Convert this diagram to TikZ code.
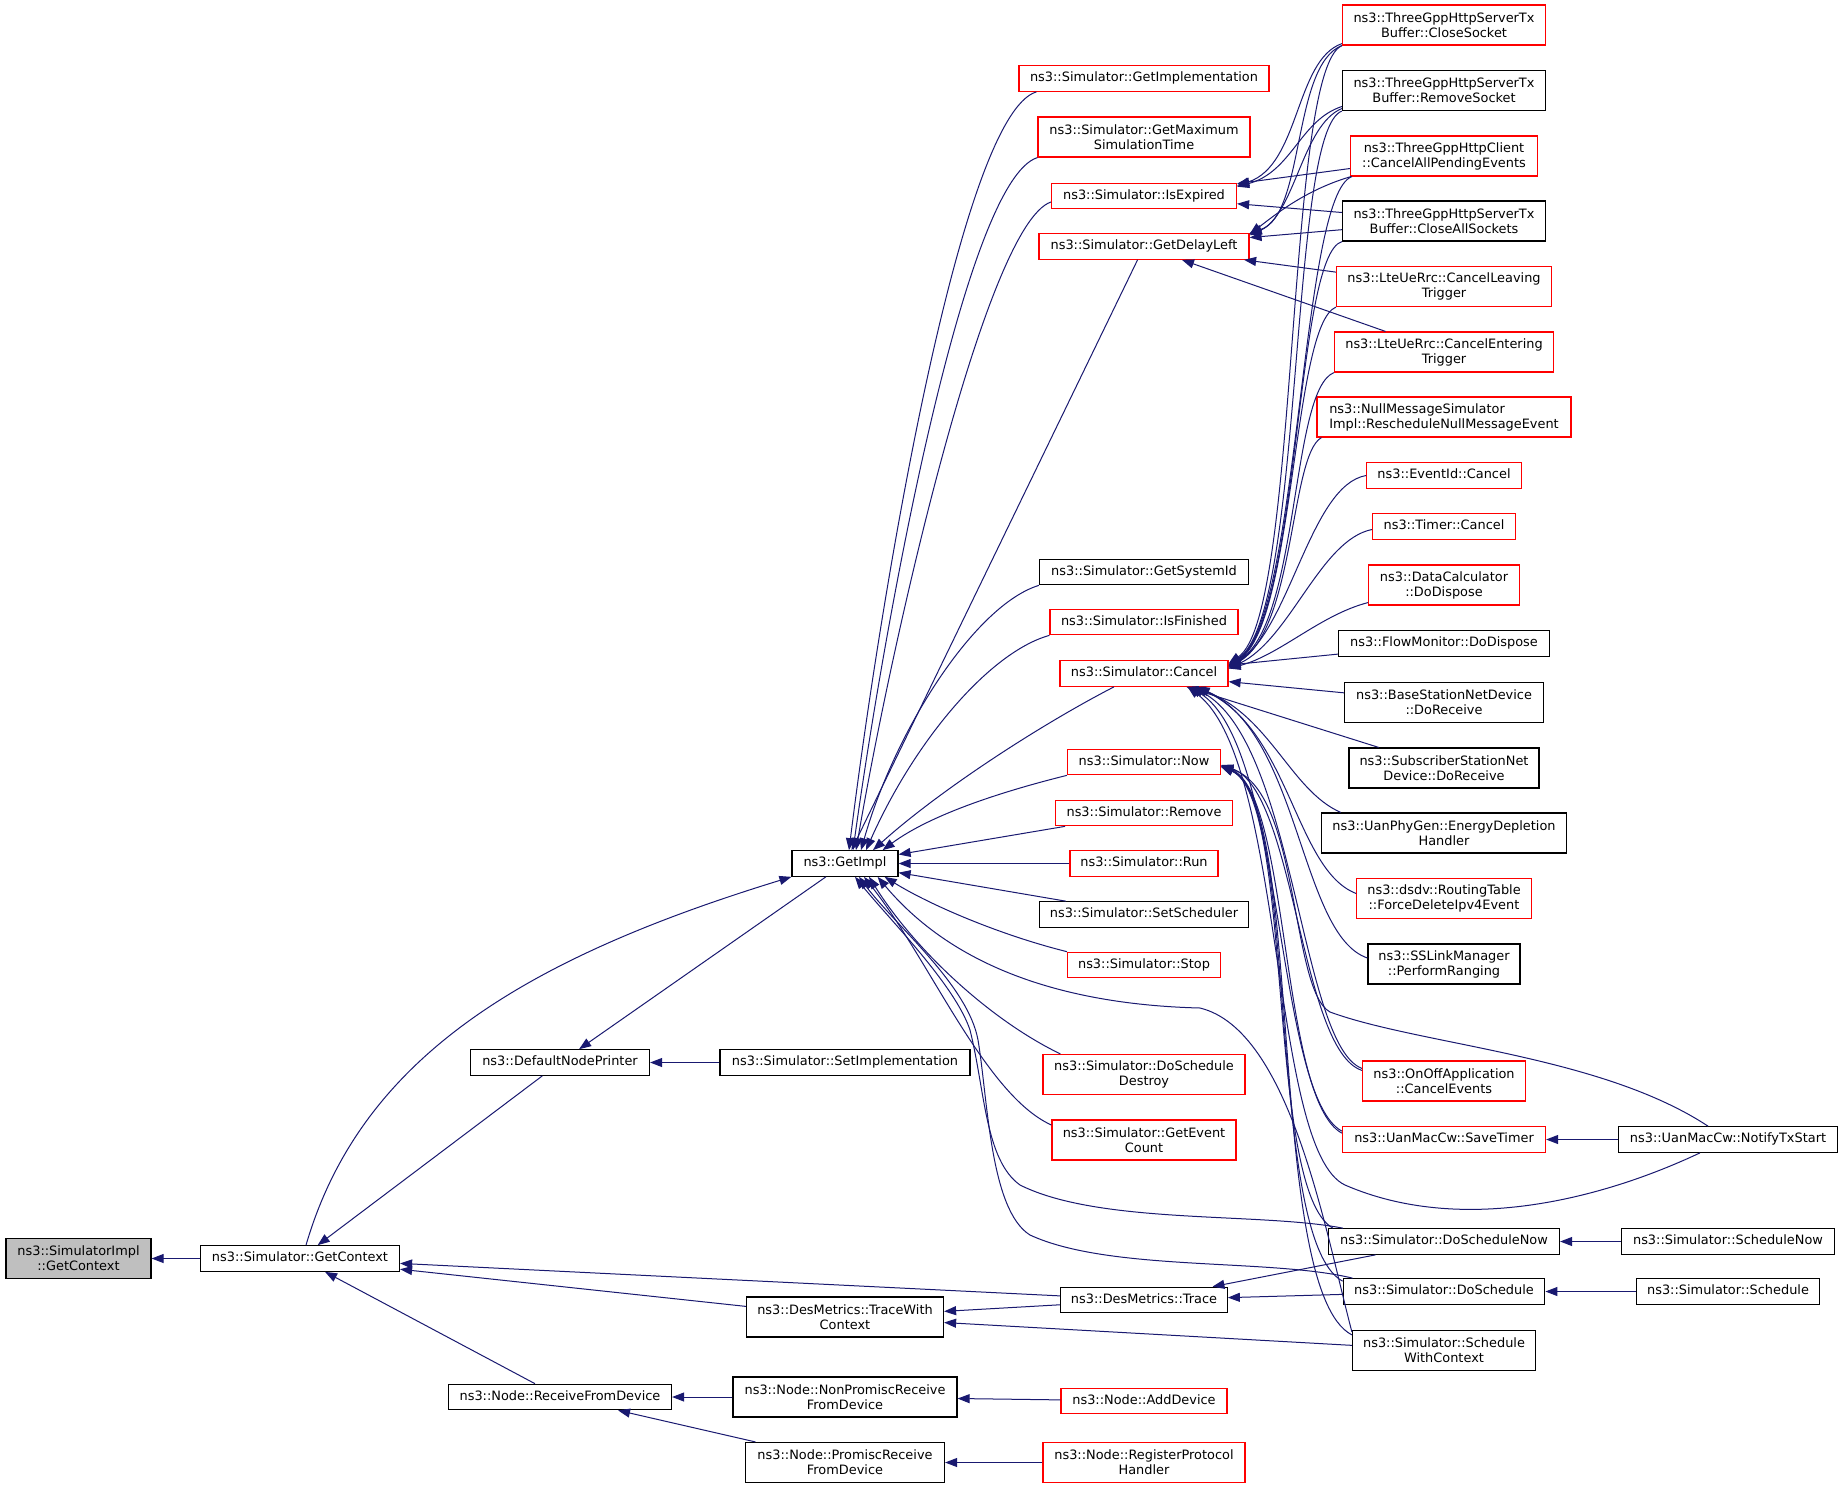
\documentclass[tikz,border=0pt]{standalone}
\usepackage{fontspec}
\setmainfont{DejaVu Sans}
\usetikzlibrary{arrows.meta,calc}
\definecolor{edgecol}{RGB}{25,25,112}
\definecolor{nodered}{RGB}{255,0,0}
\definecolor{nodegray}{RGB}{191,191,191}
\begin{document}
\begin{tikzpicture}[x=1pt,y=-1pt,
  bx/.style={rectangle, draw=black, line width=1.2pt, fill=white, inner xsep=3pt, inner ysep=2pt, font=\fontsize{12.9}{15}\selectfont, text height=9.6pt, text depth=3pt, minimum height=25.5pt},
  bxx/.style={rectangle, draw=black, line width=1.2pt, fill=white, inner xsep=3pt, inner ysep=2pt, font=\fontsize{12.9}{15}\selectfont, align=center, minimum height=40pt},
  rb/.style={draw=nodered},
  gb/.style={fill=nodegray},
  cx/.style={draw=edgecol, line width=1pt, -{Triangle[length=12pt,width=9pt]}},
]
\fill[white] (0,0) rectangle (1843,1488);
\useasboundingbox (0,0) rectangle (1843,1488);

% ---------- nodes ----------
\node[bxx,gb,minimum width=145pt] (sgc0) at (78.5,1258.5) {ns3::SimulatorImpl\\::GetContext};
\node[bx,minimum width=199pt] (sgc) at (300,1258.5) {ns3::Simulator::GetContext};
\node[bx,minimum width=179pt] (dnp) at (560,1062.5) {ns3::DefaultNodePrinter};
\node[bx,minimum width=223pt] (rfd) at (560,1397) {ns3::Node::ReceiveFromDevice};
\node[bx,minimum width=106pt] (gimpl) at (845,863.5) {ns3::GetImpl};
\node[bx,minimum width=250pt] (simpl) at (845,1062.5) {ns3::Simulator::SetImplementation};
\node[bxx,minimum width=197pt] (twc) at (845,1317) {ns3::DesMetrics::TraceWith\\Context};
\node[bxx,minimum width=224pt] (npr) at (845,1397) {ns3::Node::NonPromiscReceive\\FromDevice};
\node[bxx,minimum width=199pt] (pr) at (845,1462.5) {ns3::Node::PromiscReceive\\FromDevice};

\node[bx,rb,minimum width=250pt] (gimpln) at (1144,78.5) {ns3::Simulator::GetImplementation};
\node[bxx,rb,minimum width=212pt] (gmax) at (1144,137) {ns3::Simulator::GetMaximum\\SimulationTime};
\node[bx,rb,minimum width=185pt] (ie) at (1144,196) {ns3::Simulator::IsExpired};
\node[bx,rb,minimum width=210pt] (gdl) at (1144,246.5) {ns3::Simulator::GetDelayLeft};
\node[bx,minimum width=209pt] (gsid) at (1144,572) {ns3::Simulator::GetSystemId};
\node[bx,rb,minimum width=188pt] (isf) at (1144,622) {ns3::Simulator::IsFinished};
\node[bx,rb,minimum width=168pt] (cn) at (1144,673.5) {ns3::Simulator::Cancel};
\node[bx,rb,minimum width=153pt] (nw) at (1144,762) {ns3::Simulator::Now};
\node[bx,rb,minimum width=177pt] (rm) at (1144,813) {ns3::Simulator::Remove};
\node[bx,rb,minimum width=148pt] (run) at (1144,863.5) {ns3::Simulator::Run};
\node[bx,minimum width=209pt] (ssch) at (1144,914.5) {ns3::Simulator::SetScheduler};
\node[bx,rb,minimum width=153pt] (stp) at (1144,965) {ns3::Simulator::Stop};
\node[bxx,rb,minimum width=202pt] (dsd) at (1144,1074.5) {ns3::Simulator::DoSchedule\\Destroy};
\node[bxx,rb,minimum width=184pt] (gec) at (1144,1140) {ns3::Simulator::GetEvent\\Count};
\node[bx,minimum width=166.5pt] (trc) at (1144,1300) {ns3::DesMetrics::Trace};
\node[bx,rb,minimum width=166pt] (adev) at (1144,1401) {ns3::Node::AddDevice};
\node[bxx,rb,minimum width=202pt] (rph) at (1144,1462.5) {ns3::Node::RegisterProtocol\\Handler};

\node[bxx,rb,minimum width=203pt] (cs) at (1444,25) {ns3::ThreeGppHttpServerTx\\Buffer::CloseSocket};
\node[bxx,minimum width=203pt] (rs) at (1444,90.5) {ns3::ThreeGppHttpServerTx\\Buffer::RemoveSocket};
\node[bxx,rb,minimum width=187pt] (cap) at (1444,156) {ns3::ThreeGppHttpClient\\::CancelAllPendingEvents};
\node[bxx,minimum width=203pt] (cas) at (1444,221) {ns3::ThreeGppHttpServerTx\\Buffer::CloseAllSockets};
\node[bxx,rb,minimum width=215pt] (clt) at (1444,286.5) {ns3::LteUeRrc::CancelLeaving\\Trigger};
\node[bxx,rb,minimum width=219pt] (cet) at (1444,352) {ns3::LteUeRrc::CancelEntering\\Trigger};
\node[bxx,rb,align=left,minimum width=254pt] (nms) at (1444,417) {ns3::NullMessageSimulator\\Impl::RescheduleNullMessageEvent};
\node[bx,rb,minimum width=154.5pt] (eid) at (1444,475.5) {ns3::EventId::Cancel};
\node[bx,rb,minimum width=143pt] (tmr) at (1444,526.5) {ns3::Timer::Cancel};
\node[bxx,rb,minimum width=151pt] (dc) at (1444,585) {ns3::DataCalculator\\::DoDispose};
\node[bx,minimum width=211pt] (fm) at (1444,643.5) {ns3::FlowMonitor::DoDispose};
\node[bxx,minimum width=199pt] (bs) at (1444,702.5) {ns3::BaseStationNetDevice\\::DoReceive};
\node[bxx,minimum width=190pt] (ss) at (1444,768) {ns3::SubscriberStationNet\\Device::DoReceive};
\node[bxx,minimum width=245.5pt] (upg) at (1444,833) {ns3::UanPhyGen::EnergyDepletion\\Handler};
\node[bxx,rb,minimum width=174.5pt] (dsdv) at (1444,898.5) {ns3::dsdv::RoutingTable\\::ForceDeleteIpv4Event};
\node[bxx,minimum width=152pt] (ssl) at (1444,964) {ns3::SSLinkManager\\::PerformRanging};
\node[bxx,rb,minimum width=163pt] (oo) at (1444,1081) {ns3::OnOffApplication\\::CancelEvents};
\node[bx,rb,minimum width=203pt] (st) at (1444,1139.5) {ns3::UanMacCw::SaveTimer};
\node[bx,minimum width=231pt] (dsn) at (1444,1241.5) {ns3::Simulator::DoScheduleNow};
\node[bx,minimum width=201.6pt] (dsc) at (1444,1291.5) {ns3::Simulator::DoSchedule};
\node[bxx,minimum width=183pt] (swc) at (1444,1350.5) {ns3::Simulator::Schedule\\WithContext};

\node[bx,minimum width=219pt] (ntx) at (1728,1139.5) {ns3::UanMacCw::NotifyTxStart};
\node[bx,minimum width=213pt] (sn) at (1728,1241.5) {ns3::Simulator::ScheduleNow};
\node[bx,minimum width=182.5pt] (sch) at (1728,1291.5) {ns3::Simulator::Schedule};

% ---------- straight connectors ----------
\draw[cx] (sgc) -- (sgc0);
\draw[cx] (dnp) -- (sgc);
\draw[cx] (gimpl) -- (dnp);
\draw[cx] (simpl) -- (dnp);
\draw[cx] (twc) -- (sgc);
\draw[cx] (trc) -- (sgc);
\draw[cx] (rfd) -- (sgc);
\draw[cx] (npr) -- (rfd);
\draw[cx] (pr) -- (rfd);
\draw[cx] (adev) -- (npr);
\draw[cx] (rph) -- (pr);
\draw[cx] (trc) -- (twc);
\draw[cx] (swc) -- (twc);
\draw[cx] (dsn) -- (trc);
\draw[cx] (dsc) -- (trc);
\draw[cx] (sn) -- (dsn);
\draw[cx] (sch) -- (dsc);
\draw[cx] (ntx) -- (st);
\draw[cx] (gdl) -- (gimpl);
\draw[cx] (rm) -- (gimpl);
\draw[cx] (run) -- (gimpl);
\draw[cx] (ssch) -- (gimpl);
\draw[cx] (cap) -- (ie);
\draw[cx] (cas) -- (ie);
\draw[cx] (cas) -- (gdl);
\draw[cx] (clt) -- (gdl);
\draw[cx] (cet) -- (gdl);
\draw[cx] (fm) -- (cn);
\draw[cx] (bs) -- (cn);
\draw[cx] (ss) -- (cn);

% ---------- curved connectors into GetImpl ----------
\draw[cx] ($(sgc.north)+(6,0)$) .. controls (360,1060) and (520,960) .. (gimpl.south west);
\draw[cx] ($(gimpln.south west)+(18,0)$) .. controls (960,115) and (880,600) .. ($(gimpl.north)+(4,0)$);
\draw[cx] (gmax.south west) .. controls (965,180) and (885,620) .. ($(gimpl.north)+(8,0)$);
\draw[cx] ($(ie.west)+(0,6)$) .. controls (985,225) and (890,650) .. ($(gimpl.north)+(11,0)$);
\draw[cx] (gsid.south west) .. controls (975,605) and (895,730) .. ($(gimpl.north)+(16,0)$);
\draw[cx] (isf.south west) .. controls (990,652) and (915,740) .. ($(gimpl.north)+(21,0)$);
\draw[cx] ($(cn.south)+(-30,0)$) .. controls (1040,725) and (940,790) .. ($(gimpl.north)+(28,0)$);
\draw[cx] (nw.south west) .. controls (1000,792) and (930,815) .. ($(gimpl.north east)+(-16,0)$);
\draw[cx] (stp.north west) .. controls (1000,935) and (930,905) .. ($(gimpl.south east)+(-14,0)$);
\draw[cx] ($(dsd.north west)+(18,0)$) .. controls (990,1020) and (915,950) .. ($(gimpl.south)+(24,0)$);
\draw[cx] ($(gec.west)+(0,-15)$) .. controls (985,1095) and (930,960) .. ($(gimpl.south)+(19,0)$);
\draw[cx] ($(dsn.north west)+(15,0)$) .. controls (1260,1212) and (1100,1225) .. (1020,1185) .. controls (985,1160) and (985,1090) .. (970,1030) .. controls (955,985) and (890,920) .. ($(gimpl.south)+(10,0)$);
\draw[cx] ($(dsc.north west)+(10,0)$) .. controls (1270,1258) and (1110,1272) .. (1030,1235) .. controls (990,1210) and (988,1100) .. (978,1040) .. controls (968,985) and (895,925) .. ($(gimpl.south)+(14,0)$);
\draw[cx] ($(swc.north west)+(0,2)$) .. controls (1325,1230) and (1290,1030) .. (1200,1008) .. controls (1080,1005) and (960,975) .. ($(gimpl.south east)+(-21,0)$);

% ---------- IsExpired / GetDelayLeft ----------
\draw[cx] ($(cs.south west)+(0,-2)$) .. controls (1295,60) and (1300,165) .. ($(ie.north east)+(0,3)$);
\draw[cx] ($(rs.west)+(0,16)$) .. controls (1300,120) and (1292,172) .. ($(ie.north east)+(0,4)$);
\draw[cx] (cs.south west) .. controls (1292,65) and (1305,215) .. (gdl.north east);
\draw[cx] ($(rs.west)+(0,18)$) .. controls (1302,125) and (1295,215) .. ($(gdl.north east)+(0,2)$);
\draw[cx] ($(cap.south west)+(1,0)$) .. controls (1305,190) and (1275,215) .. ($(gdl.north east)+(0,1)$);

% ---------- into Cancel ----------
\draw[cx] (cs.south west) .. controls (1285,70) and (1300,615) .. ($(cn.east)+(0,-10)$);
\draw[cx] (rs.south west) .. controls (1288,130) and (1305,615) .. ($(cn.east)+(0,-9)$);
\draw[cx] ($(cap.south west)+(2,0)$) .. controls (1300,195) and (1300,620) .. ($(cn.east)+(0,-8)$);
\draw[cx] (cas.south west) .. controls (1295,255) and (1300,620) .. ($(cn.east)+(0,-8)$);
\draw[cx] (clt.south west) .. controls (1292,325) and (1295,625) .. ($(cn.east)+(0,-7)$);
\draw[cx] (cet.south west) .. controls (1290,390) and (1300,625) .. ($(cn.east)+(0,-7)$);
\draw[cx] ($(nms.south west)+(5,0)$) .. controls (1290,455) and (1295,630) .. ($(cn.east)+(0,-6)$);
\draw[cx] (eid.west) .. controls (1310,485) and (1290,630) .. ($(cn.east)+(0,-6)$);
\draw[cx] ($(tmr.west)+(0,3)$) .. controls (1320,540) and (1290,640) .. ($(cn.east)+(0,-5)$);
\draw[cx] ($(dc.south west)+(0,-3)$) .. controls (1320,615) and (1280,655) .. ($(cn.east)+(0,-5)$);
\draw[cx] ($(upg.north west)+(20,0)$) .. controls (1290,790) and (1270,715) .. ($(cn.south east)+(-35,0)$);
\draw[cx] ($(dsdv.west)+(0,-5)$) .. controls (1295,870) and (1290,730) .. ($(cn.south east)+(-33,0)$);
\draw[cx] ($(ssl.west)+(0,-6)$) .. controls (1300,935) and (1300,735) .. ($(cn.south east)+(-31,0)$);
\draw[cx] ($(oo.north west)+(0,8)$) .. controls (1300,1045) and (1295,740) .. ($(cn.south east)+(-37,0)$);
\draw[cx] ($(st.north west)+(0,5)$) .. controls (1275,1095) and (1285,745) .. ($(cn.south east)+(-39,0)$);
\draw[cx] ($(ntx.south)+(-28,0)$) .. controls (1600,1200) and (1460,1235) .. (1345,1185) .. controls (1270,1150) and (1285,760) .. ($(cn.south east)+(-41,0)$);

% ---------- into Now ----------
\draw[cx] ($(ntx.north)+(-20,0)$) .. controls (1600,1055) and (1420,1045) .. (1330,1012) .. controls (1290,990) and (1300,790) .. ($(nw.east)+(0,4)$);
\draw[cx] ($(oo.north west)+(0,10)$) .. controls (1300,1050) and (1295,790) .. ($(nw.east)+(0,3)$);
\draw[cx] ($(st.north west)+(0,7)$) .. controls (1280,1100) and (1290,795) .. ($(nw.east)+(0,3)$);
\draw[cx] ($(dsn.north west)+(5,0)$) .. controls (1265,1190) and (1295,800) .. ($(nw.east)+(0,4)$);
\draw[cx] ($(dsc.north west)+(0,3)$) .. controls (1265,1240) and (1300,800) .. ($(nw.east)+(0,4)$);
\draw[cx] ($(swc.north west)+(0,5)$) .. controls (1265,1290) and (1305,800) .. ($(nw.east)+(0,5)$);
\end{tikzpicture}
\end{document}
